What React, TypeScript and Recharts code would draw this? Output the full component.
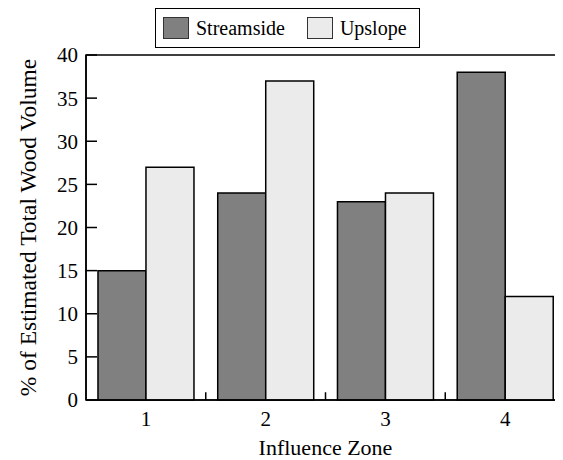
import React from "react";
import {
  BarChart,
  Bar,
  XAxis,
  YAxis,
  ReferenceArea,
  ReferenceLine,
} from "recharts";

const zones = ["1", "2", "3", "4"];
const streamside = [15, 24, 23, 38];
const upslope = [27, 37, 24, 12];
const yTicks = [0, 5, 10, 15, 20, 25, 30, 35, 40];
const zoneEdges = [1.5, 2.5, 3.5];

const data = zones.map((z, i) => ({
  zone: z,
  idx: i + 1,
  Streamside: streamside[i],
  Upslope: upslope[i],
}));

const font = "'Liberation Serif', 'Times New Roman', serif";

function LegendBox() {
  const item = (color: string, label: string) => (
    <div style={{ display: "flex", alignItems: "center", marginRight: 22 }}>
      <div
        style={{
          width: 24,
          height: 20,
          background: color,
          border: "1.5px solid #333",
          marginRight: 7,
        }}
      />
      <span style={{ fontFamily: font, fontSize: 20, color: "#000" }}>{label}</span>
    </div>
  );
  return (
    <div
      style={{
        position: "absolute",
        top: 8,
        left: 155,
        display: "flex",
        alignItems: "center",
        border: "1.5px solid #000",
        height: 40,
        width: 265,
        boxSizing: "border-box",
        paddingLeft: 7,
        background: "#fff",
      }}
    >
      {item("#808080", "Streamside")}
      {item("#ebebeb", "Upslope")}
    </div>
  );
}

export default function App() {
  return (
    <div style={{ margin: "-8px 0 0 -8px", width: 563, height: 460, position: "relative", overflow: "hidden" }}>
      <BarChart
        width={563}
        height={460}
        data={data}
        margin={{ top: 55, right: -2, left: 0, bottom: 0 }}
        barCategoryGap="10%"
        barGap={0}
      >
        <XAxis
          xAxisId="edges"
          type="number"
          dataKey="idx"
          domain={[0.5, 4.5]}
          allowDataOverflow
          hide
        />
        <XAxis
          dataKey="zone"
          height={60}
          tickLine={false}
          axisLine={{ stroke: "#000", strokeWidth: 1.5 }}
          tick={{ fill: "#000", fontSize: 21, fontFamily: font }}
          tickMargin={5}
          label={{
            value: "Influence Zone",
            position: "insideBottom",
            offset: 5,
            fill: "#000",
            fontSize: 22,
            fontFamily: font,
          }}
        />
        <YAxis
          width={86}
          domain={[0, 40]}
          ticks={yTicks}
          interval={0}
          tickSize={-11}
          tickMargin={19}
          tickLine={{ stroke: "#000", strokeWidth: 1.5 }}
          axisLine={{ stroke: "#000", strokeWidth: 1.5 }}
          tick={{ fill: "#000", fontSize: 21, fontFamily: font }}
          label={{
            value: "% of Estimated Total Wood Volume",
            angle: -90,
            position: "insideLeft",
            offset: 28,
            style: { textAnchor: "middle" },
            fill: "#000",
            fontSize: 23.5,
            fontFamily: font,
          }}
        />
        <ReferenceArea
          xAxisId="edges"
          x1={0.5}
          x2={4.5}
          y1={0}
          y2={40}
          fill="none"
          stroke="#000"
          strokeWidth={1.5}
          ifOverflow="visible"
        />
        {zoneEdges.map((e) => (
          <ReferenceLine
            key={e}
            xAxisId="edges"
            segment={[
              { x: e, y: 0 },
              { x: e, y: 0.9 },
            ]}
            stroke="#000"
            strokeWidth={1.5}
            ifOverflow="visible"
          />
        ))}
        <Bar
          dataKey="Streamside"
          fill="#808080"
          stroke="#000"
          strokeWidth={1.5}
          isAnimationActive={false}
        />
        <Bar
          dataKey="Upslope"
          fill="#ebebeb"
          stroke="#000"
          strokeWidth={1.5}
          isAnimationActive={false}
        />
      </BarChart>
      <LegendBox />
    </div>
  );
}
